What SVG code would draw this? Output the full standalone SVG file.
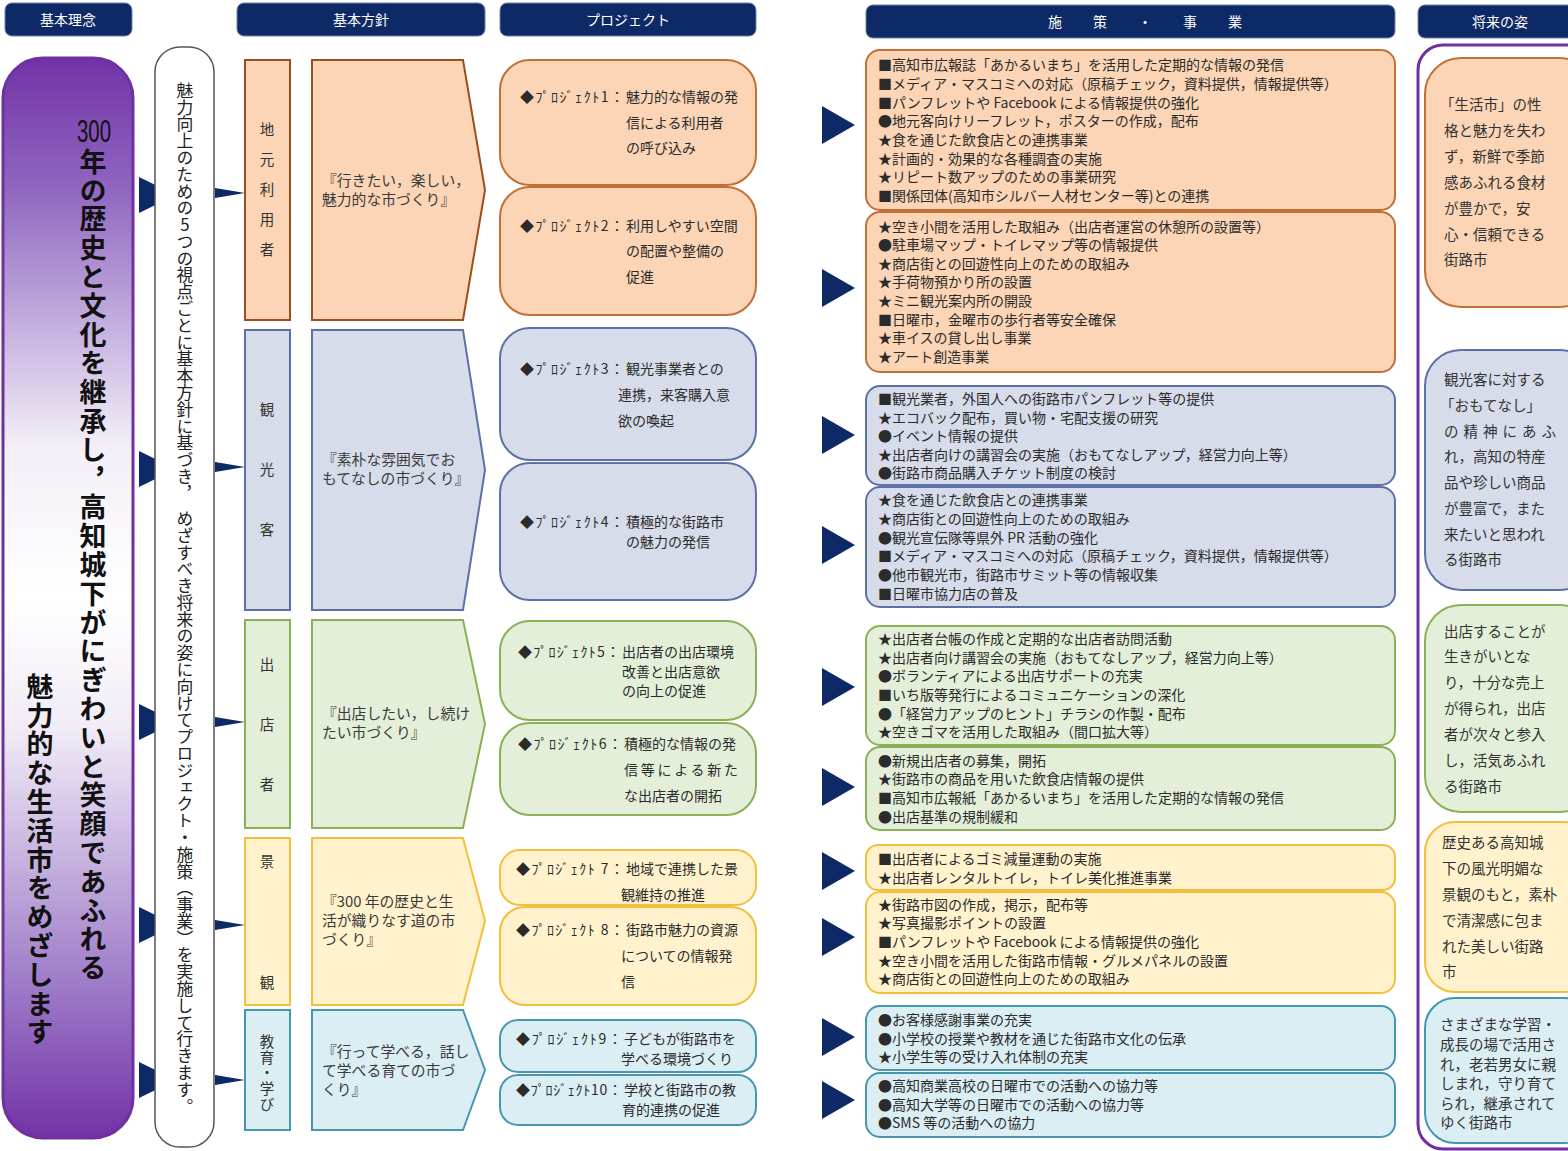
<svg xmlns="http://www.w3.org/2000/svg" width="1568" height="1151" viewBox="0 0 1568 1151">
<defs>
<linearGradient id="pg" x1="0" y1="0" x2="0" y2="1">
<stop offset="0" stop-color="#7232a6"/>
<stop offset="0.12" stop-color="#8f66c0"/>
<stop offset="0.36" stop-color="#f3eff8"/>
<stop offset="0.5" stop-color="#ffffff"/>
<stop offset="0.62" stop-color="#f1ecf7"/>
<stop offset="0.86" stop-color="#9d7ac8"/>
<stop offset="1" stop-color="#7232a6"/>
</linearGradient>
<style>
.hd{fill:#0e2a66;stroke:#6d7fa6;stroke-width:1}
.ht{font-family:"Noto Sans CJK JP","Noto Sans CJK SC",sans-serif;font-size:14px;fill:#ffffff;text-anchor:middle}
.t{font-family:"Noto Sans CJK JP","Noto Sans CJK SC",sans-serif;font-size:14px;fill:#2b2b2b}
.tb{font-family:"Noto Sans CJK JP","Noto Sans CJK SC",sans-serif;font-size:14.8px;fill:#3a3a3a}
.tf{font-family:"Noto Sans CJK JP","Noto Sans CJK SC",sans-serif;font-size:14.5px;fill:#333}
.tv{font-family:"Noto Sans CJK JP","Noto Sans CJK SC",sans-serif;font-size:14.5px;fill:#333;text-anchor:middle}
.pe{fill:#fbd5b5;stroke:#c27036;stroke-width:2}
.peb{fill:#fbd5b5;stroke:#9c4f1e;stroke-width:2}
.bl{fill:#d6dcea;stroke:#5d71a7;stroke-width:2}
.gr{fill:#e3efd8;stroke:#8bb055;stroke-width:2}
.go{fill:#fff2cc;stroke:#f3bf3c;stroke-width:2}
.te{fill:#daeef3;stroke:#4797af;stroke-width:2}
.nv{fill:#0e2a66}
</style>
</defs>
<rect width="1568" height="1151" fill="#ffffff"/>

<g id="headers">
<rect class="hd" x="5" y="3" width="127" height="33" rx="7"/>
<text class="ht" x="68" y="25">基本理念</text>
<rect class="hd" x="237" y="3" width="248" height="33" rx="7"/>
<text class="ht" x="361" y="25">基本方針</text>
<rect class="hd" x="500" y="3" width="256" height="33" rx="7"/>
<text class="ht" x="628" y="25">プロジェクト</text>
<rect class="hd" x="866" y="5" width="529" height="33" rx="7"/>
<text class="ht" x="1048" y="27" style="text-anchor:start;letter-spacing:8.5px">施　策　・　事　業</text>
<rect class="hd" x="1418" y="5" width="170" height="33" rx="7"/>
<text class="ht" x="1500" y="27">将来の姿</text>
</g>

<g id="connectors">
<polygon class="nv" points="139,177 176,195 139,213"/>
<polygon class="nv" points="139,451 176,469 139,487"/>
<polygon class="nv" points="139,704 176,722 139,740"/>
<polygon class="nv" points="139,907 176,925 139,943"/>
<polygon class="nv" points="139,1062 176,1080 139,1098"/>
<polygon class="nv" points="215,188 245,193 215,198"/>
<polygon class="nv" points="215,462 245,467 215,472"/>
<polygon class="nv" points="215,717 245,722 215,727"/>
<polygon class="nv" points="215,920 245,925 215,930"/>
<polygon class="nv" points="215,1075 245,1080 215,1085"/>
<polygon class="nv" points="822,106 855,125 822,144"/>
<polygon class="nv" points="822,269 855,288 822,307"/>
<polygon class="nv" points="822,416 855,435 822,454"/>
<polygon class="nv" points="822,526 855,545 822,564"/>
<polygon class="nv" points="822,668 855,687 822,706"/>
<polygon class="nv" points="822,768 855,787 822,806"/>
<polygon class="nv" points="822,852 855,871 822,890"/>
<polygon class="nv" points="822,918 855,937 822,956"/>
<polygon class="nv" points="822,1018 855,1037 822,1056"/>
<polygon class="nv" points="822,1081 855,1100 822,1119"/>
</g>

<g id="principle">
<rect x="3" y="58" width="130" height="1080" rx="40" fill="url(#pg)" stroke="#7030a0" stroke-width="3"/>
<text x="94" y="142" font-family="Liberation Sans, sans-serif" font-size="31" fill="#111" text-anchor="middle" textLength="34" lengthAdjust="spacingAndGlyphs">300</text>
<text x="93" y="148" font-family="Noto Sans CJK JP, Noto Sans CJK SC, sans-serif" font-size="27" font-weight="bold" fill="#111" style="writing-mode:vertical-rl;letter-spacing:1.8px">年の歴史と文化を継承し，高知城下がにぎわいと笑顔であふれる</text>
<text x="40" y="673" font-family="Noto Sans CJK JP, Noto Sans CJK SC, sans-serif" font-size="27" font-weight="bold" fill="#111" style="writing-mode:vertical-rl;letter-spacing:1.8px">魅力的な生活市をめざします</text>
</g>

<g id="perspective">
<rect x="155" y="47" width="59" height="1100" rx="25" fill="#ffffff" stroke="#555" stroke-width="1.5"/>
<text x="185" y="82" font-family="Noto Sans CJK JP, Noto Sans CJK SC, sans-serif" font-size="16.8" fill="#222" style="writing-mode:vertical-rl;text-orientation:upright">魅力向上のための5つの視点ごとに基本方針に基づき，　めざすべき将来の姿に向けてプロジェクト・施策（事業）を実施して行きます。</text>
</g>

<g id="policy-local">
<rect class="peb" x="245" y="60" width="45" height="260"/>
<text class="tv"><tspan x="267" y="135">地</tspan><tspan x="267" y="165">元</tspan><tspan x="267" y="195">利</tspan><tspan x="267" y="225">用</tspan><tspan x="267" y="255">者</tspan></text>
<polygon class="peb" points="312,60 463,60 485,190 463,320 312,320"/>
<text class="tb"><tspan x="322" y="186">『行きたい，楽しい，</tspan><tspan x="322" y="205">魅力的な市づくり』</tspan></text>
</g>
<g id="policy-tourist">
<rect class="bl" x="245" y="330" width="45" height="280"/>
<text class="tv"><tspan x="267" y="415">観</tspan><tspan x="267" y="475">光</tspan><tspan x="267" y="535">客</tspan></text>
<polygon class="bl" points="312,330 463,330 485,470 463,610 312,610"/>
<text class="tb"><tspan x="322" y="465">『素朴な雰囲気でお</tspan><tspan x="322" y="484">もてなしの市づくり』</tspan></text>
</g>
<g id="policy-vendor">
<rect class="gr" x="245" y="620" width="45" height="208"/>
<text class="tv"><tspan x="267" y="670">出</tspan><tspan x="267" y="730">店</tspan><tspan x="267" y="790">者</tspan></text>
<polygon class="gr" points="312,620 463,620 485,724 463,828 312,828"/>
<text class="tb"><tspan x="322" y="719">『出店したい，し続け</tspan><tspan x="322" y="738">たい市づくり』</tspan></text>
</g>
<g id="policy-landscape">
<rect class="go" x="245" y="838" width="45" height="167"/>
<text class="tv"><tspan x="267" y="867">景</tspan><tspan x="267" y="988">観</tspan></text>
<polygon class="go" points="312,838 463,838 485,921 463,1005 312,1005"/>
<text class="tb"><tspan x="322" y="907">『300 年の歴史と生</tspan><tspan x="322" y="926">活が織りなす道の市</tspan><tspan x="322" y="945">づくり』</tspan></text>
</g>
<g id="policy-education">
<rect class="te" x="245" y="1010" width="45" height="120"/>
<text x="267" y="1034" font-family="Noto Sans CJK JP, Noto Sans CJK SC, sans-serif" font-size="14.5" fill="#333" style="writing-mode:vertical-rl;letter-spacing:1.3px">教育・学び</text>
<polygon class="te" points="312,1010 463,1010 485,1070 463,1130 312,1130"/>
<text class="tb"><tspan x="322" y="1057">『行って学べる，話し</tspan><tspan x="322" y="1076">て学べる育ての市づ</tspan><tspan x="322" y="1095">くり』</tspan></text>
</g>

<g id="project-1"><rect class="pe" x="500" y="60" width="256" height="125" rx="30"/>
<text class="t"><tspan x="520" y="102" textLength="104" lengthAdjust="spacing">◆ﾌﾟﾛｼﾞｪｸﾄ1：</tspan><tspan x="626" y="102">魅力的な情報の発</tspan><tspan x="626" y="128">信による利用者</tspan><tspan x="626" y="153">の呼び込み</tspan></text></g>
<g id="project-2"><rect class="pe" x="500" y="187" width="256" height="128" rx="30"/>
<text class="t"><tspan x="520" y="231" textLength="104" lengthAdjust="spacing">◆ﾌﾟﾛｼﾞｪｸﾄ2：</tspan><tspan x="626" y="231">利用しやすい空間</tspan><tspan x="626" y="256">の配置や整備の</tspan><tspan x="626" y="282">促進</tspan></text></g>
<g id="project-3"><rect class="bl" x="500" y="328" width="256" height="132" rx="30"/>
<text class="t"><tspan x="520" y="374" textLength="104" lengthAdjust="spacing">◆ﾌﾟﾛｼﾞｪｸﾄ3：</tspan><tspan x="626" y="374">観光事業者との</tspan><tspan x="618" y="400">連携，来客購入意</tspan><tspan x="618" y="426">欲の喚起</tspan></text></g>
<g id="project-4"><rect class="bl" x="500" y="463" width="256" height="137" rx="30"/>
<text class="t"><tspan x="520" y="527" textLength="104" lengthAdjust="spacing">◆ﾌﾟﾛｼﾞｪｸﾄ4：</tspan><tspan x="626" y="527">積極的な街路市</tspan><tspan x="626" y="547">の魅力の発信</tspan></text></g>
<g id="project-5"><rect class="gr" x="500" y="621" width="256" height="99" rx="30"/>
<text class="t"><tspan x="518" y="657" textLength="102" lengthAdjust="spacing">◆ﾌﾟﾛｼﾞｪｸﾄ5：</tspan><tspan x="622" y="657">出店者の出店環境</tspan><tspan x="622" y="677">改善と出店意欲</tspan><tspan x="622" y="696">の向上の促進</tspan></text></g>
<g id="project-6"><rect class="gr" x="500" y="723" width="256" height="92" rx="30"/>
<text class="t"><tspan x="518" y="749" textLength="104" lengthAdjust="spacing">◆ﾌﾟﾛｼﾞｪｸﾄ6：</tspan><tspan x="624" y="749">積極的な情報の発</tspan><tspan x="624" y="775" textLength="114" lengthAdjust="spacing">信等による新た</tspan><tspan x="624" y="801">な出店者の開拓</tspan></text></g>
<g id="project-7"><rect class="go" x="500" y="850" width="256" height="55" rx="20"/>
<text class="t"><tspan x="516" y="874" textLength="108" lengthAdjust="spacing">◆ﾌﾟﾛｼﾞｪｸﾄ 7：</tspan><tspan x="626" y="874">地域で連携した景</tspan><tspan x="621" y="900">観維持の推進</tspan></text></g>
<g id="project-8"><rect class="go" x="500" y="907" width="256" height="98" rx="25"/>
<text class="t"><tspan x="516" y="935" textLength="108" lengthAdjust="spacing">◆ﾌﾟﾛｼﾞｪｸﾄ 8：</tspan><tspan x="626" y="935">街路市魅力の資源</tspan><tspan x="621" y="961">についての情報発</tspan><tspan x="621" y="987">信</tspan></text></g>
<g id="project-9"><rect class="te" x="500" y="1020" width="256" height="52" rx="18"/>
<text class="t"><tspan x="516" y="1044" textLength="106" lengthAdjust="spacing">◆ﾌﾟﾛｼﾞｪｸﾄ9：</tspan><tspan x="624" y="1044">子どもが街路市を</tspan><tspan x="621" y="1064">学べる環境づくり</tspan></text></g>
<g id="project-10"><rect class="te" x="500" y="1075" width="256" height="50" rx="18"/>
<text class="t"><tspan x="516" y="1095" textLength="106" lengthAdjust="spacing">◆ﾌﾟﾛｼﾞｪｸﾄ10：</tspan><tspan x="624" y="1095">学校と街路市の教</tspan><tspan x="622" y="1115">育的連携の促進</tspan></text></g>

<g id="measures-1"><rect class="pe" x="866" y="50" width="529" height="160" rx="14"/>
<text class="t"><tspan x="878" y="70">■高知市広報誌「あかるいまち」を活用した定期的な情報の発信</tspan><tspan x="878" y="89">■メディア・マスコミへの対応（原稿チェック，資料提供，情報提供等）</tspan><tspan x="878" y="108">■パンフレットや Facebook による情報提供の強化</tspan><tspan x="878" y="126">●地元客向けリーフレット，ポスターの作成，配布</tspan><tspan x="878" y="145">★食を通じた飲食店との連携事業</tspan><tspan x="878" y="164">★計画的・効果的な各種調査の実施</tspan><tspan x="878" y="182">★リピート数アップのための事業研究</tspan><tspan x="878" y="201">■関係団体(高知市シルバー人材センター等)との連携</tspan></text></g>
<g id="measures-2"><rect class="pe" x="866" y="212" width="529" height="160" rx="14"/>
<text class="t"><tspan x="878" y="232">★空き小間を活用した取組み（出店者運営の休憩所の設置等）</tspan><tspan x="878" y="250">●駐車場マップ・トイレマップ等の情報提供</tspan><tspan x="878" y="269">★商店街との回遊性向上のための取組み</tspan><tspan x="878" y="287">★手荷物預かり所の設置</tspan><tspan x="878" y="306">★ミニ観光案内所の開設</tspan><tspan x="878" y="325">■日曜市，金曜市の歩行者等安全確保</tspan><tspan x="878" y="343">★車イスの貸し出し事業</tspan><tspan x="878" y="362">★アート創造事業</tspan></text></g>
<g id="measures-3"><rect class="bl" x="866" y="386" width="529" height="99" rx="14"/>
<text class="t"><tspan x="878" y="404">■観光業者，外国人への街路市パンフレット等の提供</tspan><tspan x="878" y="423">★エコバック配布，買い物・宅配支援の研究</tspan><tspan x="878" y="441">●イベント情報の提供</tspan><tspan x="878" y="460">★出店者向けの講習会の実施（おもてなしアップ，経営力向上等）</tspan><tspan x="878" y="478">●街路市商品購入チケット制度の検討</tspan></text></g>
<g id="measures-4"><rect class="bl" x="866" y="487" width="529" height="120" rx="14"/>
<text class="t"><tspan x="878" y="505">★食を通じた飲食店との連携事業</tspan><tspan x="878" y="524">★商店街との回遊性向上のための取組み</tspan><tspan x="878" y="543">●観光宣伝隊等県外 PR 活動の強化</tspan><tspan x="878" y="561">■メディア・マスコミへの対応（原稿チェック，資料提供，情報提供等）</tspan><tspan x="878" y="580">●他市観光市，街路市サミット等の情報収集</tspan><tspan x="878" y="599">■日曜市協力店の普及</tspan></text></g>
<g id="measures-5"><rect class="gr" x="866" y="626" width="529" height="119" rx="14"/>
<text class="t"><tspan x="878" y="644">★出店者台帳の作成と定期的な出店者訪問活動</tspan><tspan x="878" y="663">★出店者向け講習会の実施（おもてなしアップ，経営力向上等）</tspan><tspan x="878" y="681">●ボランティアによる出店サポートの充実</tspan><tspan x="878" y="700">■いち版等発行によるコミュニケーションの深化</tspan><tspan x="878" y="719">●「経営力アップのヒント」チラシの作製・配布</tspan><tspan x="878" y="737">★空きゴマを活用した取組み（間口拡大等）</tspan></text></g>
<g id="measures-6"><rect class="gr" x="866" y="747" width="529" height="83" rx="14"/>
<text class="t"><tspan x="878" y="766">●新規出店者の募集，開拓</tspan><tspan x="878" y="784">★街路市の商品を用いた飲食店情報の提供</tspan><tspan x="878" y="803">■高知市広報紙「あかるいまち」を活用した定期的な情報の発信</tspan><tspan x="878" y="822">●出店基準の規制緩和</tspan></text></g>
<g id="measures-7"><rect class="go" x="866" y="845" width="529" height="45" rx="12"/>
<text class="t"><tspan x="878" y="864">■出店者によるゴミ減量運動の実施</tspan><tspan x="878" y="883">★出店者レンタルトイレ，トイレ美化推進事業</tspan></text></g>
<g id="measures-8"><rect class="go" x="866" y="892" width="529" height="101" rx="14"/>
<text class="t"><tspan x="878" y="910">★街路市図の作成，掲示，配布等</tspan><tspan x="878" y="928">★写真撮影ポイントの設置</tspan><tspan x="878" y="947">■パンフレットや Facebook による情報提供の強化</tspan><tspan x="878" y="966">★空き小間を活用した街路市情報・グルメパネルの設置</tspan><tspan x="878" y="984">★商店街との回遊性向上のための取組み</tspan></text></g>
<g id="measures-9"><rect class="te" x="866" y="1006" width="529" height="64" rx="14"/>
<text class="t"><tspan x="878" y="1025">●お客様感謝事業の充実</tspan><tspan x="878" y="1044">●小学校の授業や教材を通じた街路市文化の伝承</tspan><tspan x="878" y="1062">★小学生等の受け入れ体制の充実</tspan></text></g>
<g id="measures-10"><rect class="te" x="866" y="1073" width="529" height="64" rx="14"/>
<text class="t"><tspan x="878" y="1091">●高知商業高校の日曜市での活動への協力等</tspan><tspan x="878" y="1110">●高知大学等の日曜市での活動への協力等</tspan><tspan x="878" y="1128">●SMS 等の活動への協力</tspan></text></g>

<g id="future">
<rect x="1418" y="45" width="180" height="1104" rx="25" fill="#ffffff" stroke="#7030a0" stroke-width="3"/>
</g>
<g id="future-1"><rect class="pe" x="1425" y="58" width="170" height="249" rx="36"/>
<text class="tf"><tspan x="1440" y="110">「生活市」の性</tspan><tspan x="1444" y="136">格と魅力を失わ</tspan><tspan x="1444" y="162">ず，新鮮で季節</tspan><tspan x="1444" y="188">感あふれる食材</tspan><tspan x="1444" y="214">が豊かで，安</tspan><tspan x="1444" y="240">心・信頼できる</tspan><tspan x="1444" y="265">街路市</tspan></text></g>
<g id="future-2"><rect class="bl" x="1425" y="350" width="170" height="240" rx="36"/>
<text class="tf"><tspan x="1444" y="385">観光客に対する</tspan><tspan x="1440" y="411">「おもてなし」</tspan><tspan x="1444" y="437" textLength="112" lengthAdjust="spacing">の精神にあふ</tspan><tspan x="1444" y="462">れ，高知の特産</tspan><tspan x="1444" y="488">品や珍しい商品</tspan><tspan x="1444" y="514">が豊富で，また</tspan><tspan x="1444" y="540">来たいと思われ</tspan><tspan x="1444" y="565">る街路市</tspan></text></g>
<g id="future-3"><rect class="gr" x="1425" y="605" width="170" height="207" rx="36"/>
<text class="tf"><tspan x="1444" y="637">出店することが</tspan><tspan x="1444" y="662">生きがいとな</tspan><tspan x="1444" y="688">り，十分な売上</tspan><tspan x="1444" y="714">が得られ，出店</tspan><tspan x="1444" y="740">者が次々と参入</tspan><tspan x="1444" y="766">し，活気あふれ</tspan><tspan x="1444" y="792">る街路市</tspan></text></g>
<g id="future-4"><rect class="go" x="1425" y="822" width="170" height="170" rx="30"/>
<text class="tf"><tspan x="1442" y="848">歴史ある高知城</tspan><tspan x="1442" y="874">下の風光明媚な</tspan><tspan x="1442" y="900">景観のもと，素朴</tspan><tspan x="1442" y="926">で清潔感に包ま</tspan><tspan x="1442" y="952">れた美しい街路</tspan><tspan x="1442" y="977">市</tspan></text></g>
<g id="future-5"><rect class="te" x="1425" y="998" width="170" height="145" rx="30"/>
<text class="tf"><tspan x="1440" y="1030">さまざまな学習・</tspan><tspan x="1440" y="1050">成長の場で活用さ</tspan><tspan x="1440" y="1070">れ，老若男女に親</tspan><tspan x="1440" y="1089">しまれ，守り育て</tspan><tspan x="1440" y="1109">られ，継承されて</tspan><tspan x="1440" y="1128">ゆく街路市</tspan></text></g>
</svg>
